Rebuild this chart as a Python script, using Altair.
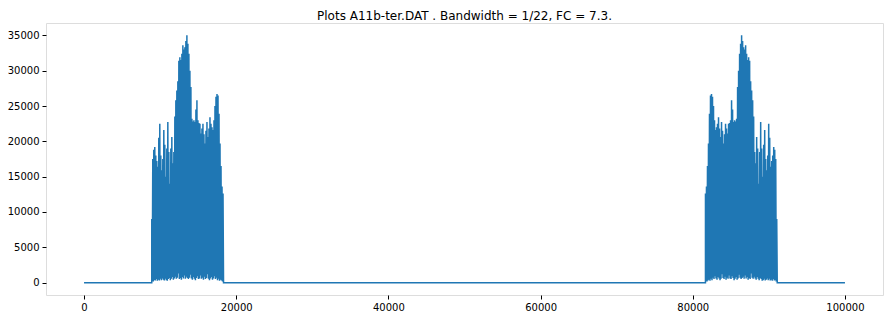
import altair as alt
import numpy as np
import pandas as pd

TITLE = "Plots A11b-ter.DAT . Bandwidth = 1/22, FC = 7.3."

# Signal length and burst extents (sample index)
N_SAMPLES = 100000
BURST1_START, BURST1_END = 8900, 18330
BURST2_START, BURST2_END = 81670, 91100

# Upper envelope (spike tops) of the first burst, left to right
burst1_highs = [
    9000, 17500, 18800, 19200, 18000, 17200, 16400, 20500, 22500,
    18000, 15900, 17500, 21600, 19500, 15000, 19000, 22750, 18500, 14000,
    19000, 20600, 16900, 18500, 23500, 25800, 27200, 28500, 31400, 31900,
    31500, 32400, 33600, 33000, 33300, 34200, 35000, 33800, 32400, 30000,
    27700, 23200, 22800, 23000, 22750, 24500, 25800, 23000, 22600, 22500,
    21100, 21800, 22500, 21000, 19700, 21500, 22750, 20600, 21800, 23400,
    22500, 22000, 21600, 23000, 25000, 26300, 26700, 26500, 23900, 19700,
    16500, 13600, 12600,
]
# Lower envelope (troughs) of the first burst
burst1_lows = [
    250, 150, 350, 300, 500, 250, 400, 300, 550,
    350, 600, 400, 300, 550, 350, 250, 500, 650, 350,
    550, 800, 400, 600, 850, 550, 700, 1300, 500, 650,
    400, 800, 600, 1000, 550, 850, 650, 500, 700, 1100,
    600, 400, 800, 550, 350, 650, 900, 500, 600, 1000,
    550, 700, 400, 850, 500, 650, 1200, 550, 350, 600,
    800, 400, 600, 900, 500, 700, 350, 550, 250, 400,
    300, 150, 250,
]
# Second burst (mirror image of the spectrum), left to right
burst2_highs = [
    12600, 13600, 16500,
    19700, 23900, 26500, 26700, 26300, 25000, 23000, 21600, 22000, 22500,
    23400, 21800, 20600, 22750, 21500, 19700, 21000, 22500, 21800, 21100,
    22500, 22600, 23000, 25800, 24500, 22750, 23000, 22800, 23200, 27700,
    30000, 32400, 33800, 35000, 34200, 33300, 33000, 33600, 32400, 31500,
    31900, 31400, 28500, 27200, 25800, 23500, 18500, 16900, 20600, 19000,
    14000, 18500, 22750, 19000, 15000, 19500, 21600, 17500, 15900, 18000,
    22500, 20500, 16400, 17200, 18000, 19200, 18800, 17500, 9000,
]
burst2_lows = [
    250, 150, 300,
    400, 250, 550, 350, 700, 500, 900, 600, 400, 800,
    600, 350, 550, 1200, 650, 500, 850, 400, 700, 550,
    1000, 600, 500, 900, 650, 350, 550, 800, 400, 600,
    1100, 700, 500, 650, 850, 550, 1000, 600, 800, 400,
    650, 500, 1300, 700, 550, 850, 600, 400, 800, 550,
    350, 650, 500, 250, 350, 550, 300, 400, 600, 350,
    550, 300, 400, 250, 500, 300, 350, 150, 250,
]


def burst(start, end, highs, lows):
    vals = []
    for h, l in zip(highs, lows):
        vals.extend([h, l])
    xs = np.linspace(start, end, len(vals))
    return list(xs), vals


xs, ys = [0.0, BURST1_START - 1], [0.0, 0.0]
bx, by = burst(BURST1_START, BURST1_END, burst1_highs, burst1_lows)
xs += bx
ys += by
xs += [BURST1_END + 1, BURST2_START - 1]
ys += [0.0, 0.0]
bx, by = burst(BURST2_START, BURST2_END, burst2_highs, burst2_lows)
xs += bx
ys += by
xs += [BURST2_END + 1, N_SAMPLES]
ys += [0.0, 0.0]

df = pd.DataFrame({"x": xs, "y": ys, "i": range(len(xs))})

FONT = "DejaVu Sans"

axis_style = dict(
    domain=False,
    grid=False,
    ticks=True,
    tickColor="black",
    tickSize=4,
    tickWidth=1,
    labelFont=FONT,
    labelFontSize=10,
    labelColor="black",
    labelPadding=3,
    title=None,
    format="d",
)

chart = (
    alt.Chart(df)
    .mark_line(color="#1f77b4", strokeWidth=1.5, clip=True)
    .encode(
        x=alt.X(
            "x:Q",
            scale=alt.Scale(domain=[-5000, 105000], nice=False, zero=False),
            axis=alt.Axis(values=[0, 20000, 40000, 60000, 80000, 100000], **axis_style),
        ),
        y=alt.Y(
            "y:Q",
            scale=alt.Scale(domain=[-1750, 36750], nice=False, zero=False),
            axis=alt.Axis(values=[0, 5000, 10000, 15000, 20000, 25000, 30000, 35000], **axis_style),
        ),
        order="i:Q",
    )
    .properties(
        width=837,
        height=272,
        title=alt.TitleParams(TITLE, font=FONT, fontSize=12, fontWeight="normal", color="black", anchor="middle", offset=0),
        autosize=alt.AutoSizeParams(type="none"),
        padding={"left": 46, "top": 23, "right": 10, "bottom": 24},
    )
    .configure_view(stroke="#222222", strokeWidth=1)
    .configure(background="white")
)

chart.save("out.html", embed_options={"renderer": "svg", "actions": False})
